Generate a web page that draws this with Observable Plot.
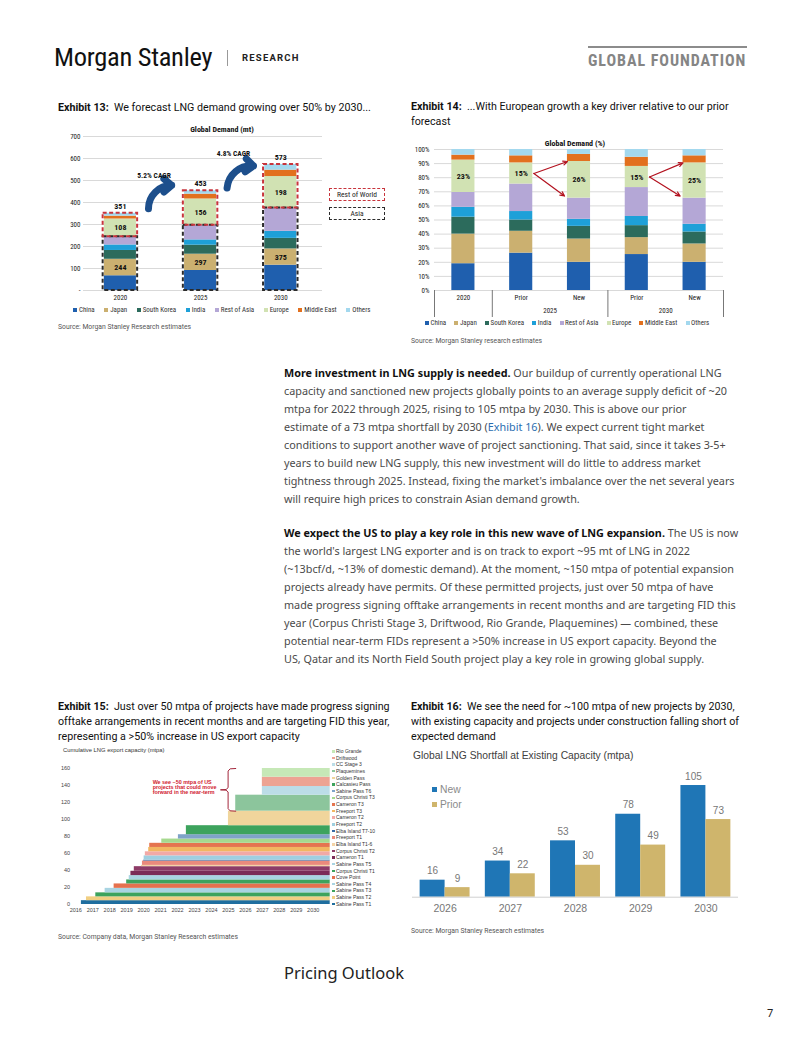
<!DOCTYPE html>
<html>
<head>
<meta charset="utf-8">
<script src="https://cdn.jsdelivr.net/npm/d3@7"></script>
<script src="https://cdn.jsdelivr.net/npm/@observablehq/plot@0.6"></script>
<style>
  html, body { margin:0; padding:0; background:#fff; }
  body { width:802px; height:1037px; position:relative; overflow:hidden; font-family: Roboto, "Liberation Sans", Arial, sans-serif; color:#1a1a1a; }
  .a { position:absolute; white-space:nowrap; }
  .ttl { font-size:10.7px; line-height:15px; color:#111; }
  .ttl b { font-weight:700; }
  .src { font-size:6.8px; color:#555; }
  .para { font-family:"Noto Sans", sans-serif; font-size:10.8px; line-height:18px; color:#4a4a4a; }
  .para b { color:#111; font-weight:700; }
  .para .lnk { color:#2a6db0; }
  .lg { position:absolute; display:flex; align-items:center; white-space:nowrap; color:#333; }
  .lg span.it { display:flex; align-items:center; }
  .lg i { display:inline-block; }
</style>
</head>
<body>
<!-- header -->
<div class="a" style="left:54px;top:41px;font-family:'Liberation Sans Narrow','Roboto Condensed',Roboto,sans-serif;font-size:26.5px;color:#111;letter-spacing:-0.3px;">Morgan Stanley</div>
<div class="a" style="left:227px;top:50px;width:1px;height:16px;background:#999;"></div>
<div class="a" style="left:242px;top:52px;font-family:Roboto,sans-serif;font-weight:700;font-size:9.5px;letter-spacing:1.2px;color:#222;">RESEARCH</div>
<div class="a" style="left:588px;top:46px;width:159px;height:2px;background:#8c8c8c;"></div>
<div class="a" style="left:588px;top:51px;font-family:'Liberation Sans Narrow','Roboto Condensed',Roboto,sans-serif;font-weight:700;font-size:16px;letter-spacing:0.95px;color:#858585;">GLOBAL FOUNDATION</div>

<!-- exhibit titles -->
<div class="a ttl" style="left:58px;top:100px;"><b>Exhibit 13:</b>&nbsp; We forecast LNG demand growing over 50% by 2030...</div>
<div class="a ttl" style="left:411px;top:99px;"><b>Exhibit 14:</b>&nbsp; ...With European growth a key driver relative to our prior<br>forecast</div>
<div class="a ttl" style="left:58px;top:699px;"><b>Exhibit 15:</b>&nbsp; Just over 50 mtpa of projects have made progress signing<br>offtake arrangements in recent months and are targeting FID this year,<br>representing a &gt;50% increase in US export capacity</div>
<div class="a ttl" style="left:411px;top:699px;"><b>Exhibit 16:</b>&nbsp; We see the need for ~100 mtpa of new projects by 2030,<br>with existing capacity and projects under construction falling short of<br>expected demand</div>

<!-- sources -->
<div class="a src" style="left:58px;top:323px;">Source: Morgan Stanley Research estimates</div>
<div class="a src" style="left:411px;top:337px;">Source: Morgan Stanley research estimates</div>
<div class="a src" style="left:58px;top:933px;">Source: Company data, Morgan Stanley Research estimates</div>
<div class="a src" style="left:411px;top:927px;">Source: Morgan Stanley Research estimates</div>

<!-- body text -->
<div class="a para" style="left:284px;top:364px;">
<b>More investment in LNG supply is needed.</b> Our buildup of currently operational LNG<br>
capacity and sanctioned new projects globally points to an average supply deficit of ~20<br>
mtpa for 2022 through 2025, rising to 105 mtpa by 2030. This is above our prior<br>
estimate of a 73 mtpa shortfall by 2030 (<span class="lnk">Exhibit 16</span>). We expect current tight market<br>
conditions to support another wave of project sanctioning. That said, since it takes 3-5+<br>
years to build new LNG supply, this new investment will do little to address market<br>
tightness through 2025. Instead, fixing the market's imbalance over the net several years<br>
will require high prices to constrain Asian demand growth.
</div>
<div class="a para" style="left:284px;top:524px;">
<b>We expect the US to play a key role in this new wave of LNG expansion.</b> The US is now<br>
the world's largest LNG exporter and is on track to export ~95 mt of LNG in 2022<br>
(~13bcf/d, ~13% of domestic demand). At the moment, ~150 mtpa of potential expansion<br>
projects already have permits. Of these permitted projects, just over 50 mtpa of have<br>
made progress signing offtake arrangements in recent months and are targeting FID this<br>
year (Corpus Christi Stage 3, Driftwood, Rio Grande, Plaquemines) — combined, these<br>
potential near-term FIDs represent a &gt;50% increase in US export capacity. Beyond the<br>
US, Qatar and its North Field South project play a key role in growing global supply.
</div>

<div class="a" style="left:284px;top:961px;font-family:'Noto Sans',sans-serif;font-size:16.5px;color:#222;">Pricing Outlook</div>
<div class="a" style="left:767px;top:1005px;font-family:'Noto Sans',sans-serif;font-size:11px;color:#222;">7</div>

<script>
// ================= DATA =================
// Exhibit 13 / 14 regions
const regions = ["China", "Japan", "South Korea", "India", "Rest of Asia", "Europe", "Middle East", "Others"];
const regionColors = ["#1f5fae", "#cbb070", "#2c6b5c", "#1ea0d8", "#b4a7d6", "#d1e2b3", "#e2701e", "#a3d8ee"];
const asiaRegionCount = 5;

// Exhibit 13: global demand (mt)
const demandYears = ["2020", "2025", "2030"];
const demand2020 = [67, 75, 40, 25, 37, 81, 13, 13];
const demand2025 = [91, 74, 41, 24, 67, 119, 22, 15];
const demand2030 = [115, 74, 48, 32, 106, 143, 29, 26];
const demandTotals = [351, 453, 573];
const asiaTotals = [244, 297, 375];
const rowTotals = [108, 156, 198];
const cagrLabels = ["5.2% CAGR", "4.8% CAGR"];
// annotation anchors (data units): arrow start/end, label position
const cagrArrowFrom = [[0.35, 372], [1.33, 466]];
const cagrArrowTo = [[0.64, 478], [1.66, 566]];
const cagrLabelAt = [[0.42, 524], [1.41, 624]];

// Exhibit 14: global demand share (%)
const shareBars = ["2020", "Prior", "New", "Prior", "New"];
const shareGroupLabels = ["2025", "2030"];
const share2020 = [19, 21, 12, 7, 10.5, 23, 3.5, 4];
const share2025Prior = [26.5, 15.5, 8, 6, 19.5, 15, 5, 4.5];
const share2025New = [20, 16.5, 9, 5, 15, 26, 5, 3.5];
const share2030Prior = [25.5, 12, 8.5, 6.5, 20.5, 15, 6.5, 5.5];
const share2030New = [20, 13, 8.5, 5.5, 18.5, 25, 5, 4.5];

// Exhibit 15: cumulative US LNG export capacity (mtpa), bottom to top
const projects = ["Sabine Pass T1", "Sabine Pass T2", "Sabine Pass T3", "Sabine Pass T4", "Cove Point", "Corpus Christi T1", "Sabine Pass T5", "Cameron T1", "Corpus Christi T2", "Elba Island T1-6", "Freeport T1", "Elba Island T7-10", "Freeport T2", "Cameron T2", "Freeport T3", "Cameron T3", "Corpus Christi T3", "Sabine Pass T6", "Calcasieu Pass", "Golden Pass", "Plaquemines", "CC Stage 3", "Driftwood", "Rio Grande"];
const projectCapacity = [4.5, 4.5, 4.7, 5.3, 5.2, 4.7, 5.1, 5.1, 5.4, 1.5, 5.1, 1.0, 5.1, 4.8, 5.1, 4.9, 5.0, 5.1, 10.6, 17.1, 18.8, 10.2, 11.0, 10.2];
const projectStart = [2016.33, 2016.63, 2017.18, 2017.73, 2018.26, 2019.0, 2019.15, 2019.25, 2019.45, 2019.87, 2019.93, 2020.0, 2020.03, 2020.1, 2020.3, 2020.36, 2021.07, 2022.05, 2022.52, 2025.0, 2025.43, 2027.0, 2027.0, 2027.0];
const projectColors = ["#1f6e9f", "#f1cf83", "#3da35d", "#a9d4e2", "#e5714e", "#3da35d", "#a9d4e2", "#7b2b57", "#8d3b67", "#f4d3a6", "#ea8a7c", "#3a6aa5", "#9fcfe0", "#f2a9a6", "#f2b661", "#e5744f", "#a6d98f", "#7fa3c8", "#3da35d", "#f0d59c", "#8cc59c", "#bcdde8", "#eda393", "#c6e8b7"];
const capacityEndYear = 2031;
const capacityYears = d3.range(2016, 2031);
const nearTermProjects = ["Plaquemines", "CC Stage 3", "Driftwood", "Rio Grande"];
const nearTermNote = "We see ~50 mtpa of US\nprojects that could move\nforward in the near-term";

// Exhibit 16: global LNG shortfall (mtpa)
const shortfallYears = ["2026", "2027", "2028", "2029", "2030"];
const shortfallNew = [16, 34, 53, 78, 105];
const shortfallPrior = [9, 22, 30, 49, 73];
const shortfallSeries = ["New", "Prior"];
const shortfallColors = ["#1f76b6", "#cfb56c"];

// ================= HELPERS =================
const FONT_C = "'Liberation Sans Narrow','Roboto Condensed',Roboto,Arial,sans-serif";
const FONT_A = "'Liberation Sans',Arial,Roboto,sans-serif";

function mount(node, left, top, w) {
  const d = document.createElement("div");
  d.style.cssText = `position:absolute;left:${left}px;top:${top}px;width:${w}px;`;
  d.appendChild(node);
  document.body.appendChild(d);
  return d;
}
function html(str, css) {
  const d = document.createElement("div");
  d.className = "a";
  d.style.cssText += css;
  d.innerHTML = str;
  document.body.appendChild(d);
  return d;
}
function stackRows(vals, i) {
  let acc = 0;
  return vals.map((v, j) => { const r = {i, region: regions[j], y1: acc, y2: acc + v}; acc += v; return r; });
}
function legendRow(names, colors, left, top, opts) {
  const box = document.createElement("div");
  box.className = "lg";
  box.style.cssText += `left:${left}px;top:${top}px;font-family:${opts.font};font-size:${opts.size}px;gap:${opts.gap}px;color:${opts.color || "#333"};${opts.column ? "flex-direction:column;align-items:flex-start;gap:0;" : ""}`;
  names.forEach((n, k) => {
    const it = document.createElement("span");
    it.className = "it";
    if (opts.column) it.style.cssText = `height:${opts.rowH}px;line-height:${opts.rowH}px;`;
    it.innerHTML = `<i style="width:${opts.sw}px;height:${opts.sw}px;background:${colors[k]};margin-right:${opts.sp}px;"></i>${n}`;
    box.appendChild(it);
  });
  document.body.appendChild(box);
}

// ================= EXHIBIT 13 =================
const demandSeries = [demand2020, demand2025, demand2030];
const ex13Rows = demandSeries.flatMap((v, i) => stackRows(v, i));
const ex13Groups = demandYears.map((yr, i) => {
  const rows = ex13Rows.filter(r => r.i === i);
  return {
    i, total: demandTotals[i], asia: asiaTotals[i], row: rowTotals[i],
    asiaTop: rows[asiaRegionCount - 1].y2, top: rows[rows.length - 1].y2,
    japanMid: (rows[1].y1 + rows[1].y2) / 2, europeMid: (rows[5].y1 + rows[5].y2) / 2
  };
});
const cagrArrows = cagrLabels.map((t, k) => ({x1: cagrArrowFrom[k][0], y1: cagrArrowFrom[k][1], x2: cagrArrowTo[k][0], y2: cagrArrowTo[k][1]}));
const cagrText = cagrLabels.map((t, k) => ({x: cagrLabelAt[k][0], y: cagrLabelAt[k][1], t}));
const barHalf13 = 0.2, boxHalf13 = 0.215;

const ex13 = Plot.plot({
  width: 330, height: 200, marginTop: 16, marginBottom: 30, marginLeft: 25, marginRight: 66,
  x: {domain: [-0.46, 2.52], axis: null},
  y: {domain: [0, 700], axis: null},
  color: {domain: regions, range: regionColors},
  style: {fontFamily: FONT_C, fontSize: "7px", color: "#222", background: "transparent", overflow: "visible"},
  marks: [
    Plot.gridY(d3.range(0, 701, 100), {stroke: "#d9d9d9", strokeOpacity: 1}),
    Plot.axisY(d3.range(0, 701, 100), {tickSize: 0, tickPadding: 3, tickFormat: d => d === 0 ? "-" : d, fontSize: 7}),
    Plot.axisX([0, 1, 2], {tickSize: 0, tickPadding: 5, tickFormat: i => demandYears[i], fontSize: 7}),
    Plot.rect(ex13Rows, {x1: d => d.i - barHalf13, x2: d => d.i + barHalf13, y1: "y1", y2: "y2", fill: "region"}),
    Plot.rect(ex13Groups, {x1: d => d.i - boxHalf13, x2: d => d.i + boxHalf13, y1: 0, y2: "asiaTop", fill: "none", stroke: "#2b2b2b", strokeWidth: 2, strokeDasharray: "4,2.5"}),
    Plot.rect(ex13Groups, {x1: d => d.i - boxHalf13, x2: d => d.i + boxHalf13, y1: "asiaTop", y2: "top", fill: "none", stroke: "#c8343c", strokeWidth: 2, strokeDasharray: "4,2.5"}),
    Plot.text(ex13Groups, {x: "i", y: "top", text: d => String(d.total), dy: -7, fontWeight: "bold", fontSize: 8, fill: "#111"}),
    Plot.text(ex13Groups, {x: "i", y: "japanMid", text: d => String(d.asia), fontWeight: "bold", fontSize: 8, fill: "#111"}),
    Plot.text(ex13Groups, {x: "i", y: "europeMid", text: d => String(d.row), fontWeight: "bold", fontSize: 8, fill: "#111"}),
    Plot.arrow(cagrArrows, {x1: "x1", y1: "y1", x2: "x2", y2: "y2", bend: 45, stroke: "#1d4f8c", strokeWidth: 7, headLength: 2.2, headAngle: 80}),
    Plot.text(cagrText, {x: "x", y: "y", text: "t", fontWeight: "bold", fontSize: 7.5, fill: "#111"})
  ]
});
mount(ex13, 58, 120, 330);
html("Global Demand (mt)", `left:222px;top:129px;transform:translate(-50%,-50%);font-family:${FONT_C};font-weight:700;font-size:8px;color:#111;`);
html("Rest of World", `left:329px;top:188px;width:54px;height:11px;border:1.5px dashed #c8343c;text-align:center;line-height:11px;font-family:${FONT_C};font-size:7.5px;color:#222;`);
html("Asia", `left:329px;top:207px;width:54px;height:11px;border:1.5px dashed #2b2b2b;text-align:center;line-height:11px;font-family:${FONT_C};font-size:7.5px;color:#222;`);
legendRow(regions, regionColors, 73, 306, {font: FONT_C, size: 7, gap: 9.5, sw: 4, sp: 2});

// ================= EXHIBIT 14 =================
const shareSeries = [share2020, share2025Prior, share2025New, share2030Prior, share2030New];
const ex14Rows = shareSeries.flatMap((v, i) => stackRows(v, i));
const ex14Europe = ex14Rows.filter(r => r.region === "Europe");
const ex14Arrows = [];
shareBars.forEach((b, i) => {
  if (b === "Prior") {
    const p = ex14Europe[i], n = ex14Europe[i + 1];
    ex14Arrows.push({x1: i + 0.22, y1: (p.y1 + p.y2) / 2, x2: i + 1 - 0.2, y2: n.y2});
    ex14Arrows.push({x1: i + 0.22, y1: (p.y1 + p.y2) / 2, x2: i + 1 - 0.25, y2: n.y1 + 1.5});
  }
});
const groupSeparators = [-0.5, 0.5, 2.5, 4.5];
const groupCenters = [1.5, 3.5];

const ex14 = Plot.plot({
  width: 350, height: 185, marginTop: 9, marginBottom: 35, marginLeft: 23, marginRight: 38,
  x: {domain: [-0.5, 4.5], axis: null},
  y: {domain: [0, 100], axis: null},
  color: {domain: regions, range: regionColors},
  style: {fontFamily: FONT_C, fontSize: "7px", color: "#222", background: "transparent", overflow: "visible"},
  marks: [
    Plot.gridY(d3.range(0, 101, 10), {stroke: "#d9d9d9", strokeOpacity: 1}),
    Plot.axisY(d3.range(0, 101, 10), {tickSize: 0, tickPadding: 5, tickFormat: d => d + "%", fontSize: 7}),
    Plot.rect(ex14Rows, {x1: d => d.i - 0.2, x2: d => d.i + 0.2, y1: "y1", y2: "y2", fill: "region"}),
    Plot.text(ex14Europe, {x: "i", y: d => (d.y1 + d.y2) / 2, text: d => Math.round(d.y2 - d.y1) + "%", fontWeight: "bold", fontSize: 8, fill: "#111"}),
    Plot.arrow(ex14Arrows, {x1: "x1", y1: "y1", x2: "x2", y2: "y2", stroke: "#b3121f", strokeWidth: 1.2, headLength: 6, headAngle: 50}),
    Plot.axisX(groupSeparators, {tickSize: 27, tickFormat: () => "", stroke: "#777"}),
    Plot.axisX([0, 1, 2, 3, 4], {tickSize: 0, tickPadding: 5, tickFormat: i => shareBars[i], fontSize: 7}),
    Plot.axisX(groupCenters, {tickSize: 0, tickPadding: 18, tickFormat: (d, k) => shareGroupLabels[k], fontSize: 7})
  ]
});
mount(ex14, 411, 140, 350);
html("Global Demand (%)", `left:575px;top:143px;transform:translate(-50%,-50%);font-family:${FONT_C};font-weight:700;font-size:8px;color:#111;`);
legendRow(regions, regionColors, 425, 319, {font: FONT_C, size: 7, gap: 8.2, sw: 4, sp: 1.5});

// ================= EXHIBIT 15 =================
let accCap = 0;
const capRows = projects.map((p, k) => {
  const r = {project: p, start: projectStart[k], y1: accCap, y2: accCap + projectCapacity[k]};
  accCap += projectCapacity[k];
  return r;
});
const nearRows = capRows.filter(r => nearTermProjects.includes(r.project));
const bStart = d3.min(nearRows, r => r.start);
const bLow = d3.min(nearRows, r => r.y1);
const bHigh = d3.max(nearRows, r => r.y2);
const bMid = (bLow + bHigh) / 2;
const braceX = bStart - 0.45;
const brace = [
  [bStart, bLow], [braceX + 0.12, bLow + 0.4], [braceX, bLow + 3], [braceX, bMid - 2.5], [braceX - 0.12, bMid - 0.4],
  [braceX - 0.45, bMid], [braceX - 0.12, bMid + 0.4], [braceX, bMid + 2.5], [braceX, bHigh - 3], [braceX + 0.12, bHigh - 0.4], [bStart, bHigh]
];
const noteAt = {x: braceX - 4.45, y: bMid + 3};

const ex15 = Plot.plot({
  width: 275, height: 175, marginTop: 23, marginBottom: 16, marginLeft: 15.6, marginRight: 3.3,
  x: {domain: [2015.9, capacityEndYear], axis: null},
  y: {domain: [0, 160], axis: null},
  color: {domain: projects, range: projectColors},
  style: {fontFamily: FONT_A, fontSize: "5.5px", color: "#444", background: "transparent", overflow: "visible"},
  marks: [
    Plot.rect(capRows, {x1: "start", x2: () => capacityEndYear, y1: "y1", y2: "y2", fill: "project"}),
    Plot.axisY(d3.range(0, 161, 20), {tickSize: 0, tickPadding: 4, fontSize: 5.5}),
    Plot.axisX(capacityYears, {tickSize: 0, tickPadding: 3.5, tickFormat: d => String(d), fontSize: 5.5}),
    Plot.line(brace, {x: d => d[0], y: d => d[1], stroke: "#a3263b", strokeWidth: 1}),
    Plot.text([noteAt], {x: "x", y: "y", text: () => nearTermNote, textAnchor: "start", fill: "#d0202e", fontWeight: "bold", fontSize: 5.4, lineHeight: 0.95})
  ]
});
mount(ex15, 58, 745, 275);
html("Cumulative LNG export capacity (mtpa)", `left:63px;top:747px;font-family:${FONT_A};font-size:5.8px;color:#333;`);
legendRow(projects.slice().reverse(), projectColors.slice().reverse(), 332, 748, {font: FONT_A, size: 5, gap: 0, sw: 2.5, sp: 1.5, column: true, rowH: 6.65});

// ================= EXHIBIT 16 =================
const shortRows = shortfallYears.flatMap((yr, i) => [
  {i, series: "New", v: shortfallNew[i], x1: i - 0.383, x2: i},
  {i, series: "Prior", v: shortfallPrior[i], x1: i, x2: i + 0.383}
]);
const ex16 = Plot.plot({
  width: 340, height: 155, marginTop: 14.7, marginBottom: 23.3, marginLeft: 7, marginRight: 7,
  x: {domain: [-0.5, 4.5], axis: null},
  y: {domain: [0, 110], axis: null},
  color: {domain: shortfallSeries, range: shortfallColors},
  style: {fontFamily: FONT_A, fontSize: "10px", color: "#595959", background: "transparent", overflow: "visible"},
  marks: [
    Plot.rect(shortRows, {x1: "x1", x2: "x2", y1: 0, y2: "v", fill: "series"}),
    Plot.ruleY([0], {stroke: "#d0d0d0", strokeWidth: 1}),
    Plot.text(shortRows, {x: d => (d.x1 + d.x2) / 2, y: "v", text: d => String(d.v), dy: -9, fontSize: 10, fill: "#777"}),
    Plot.axisX([0, 1, 2, 3, 4], {tickSize: 0, tickPadding: 7, tickFormat: i => shortfallYears[i], fontSize: 10.5, fill: "#777"})
  ]
});
mount(ex16, 405, 765, 340);
html("Global LNG Shortfall at Existing Capacity (mtpa)", `left:413px;top:750px;font-family:${FONT_A};font-size:10.3px;color:#404040;`);
legendRow(["New"], [shortfallColors[0]], 432, 784, {font: FONT_A, size: 10.3, gap: 0, sw: 5, sp: 3, color: "#8a8a8a"});
legendRow(["Prior"], [shortfallColors[1]], 432, 799, {font: FONT_A, size: 10.3, gap: 0, sw: 5, sp: 3, color: "#8a8a8a"});
</script>
</body>
</html>
